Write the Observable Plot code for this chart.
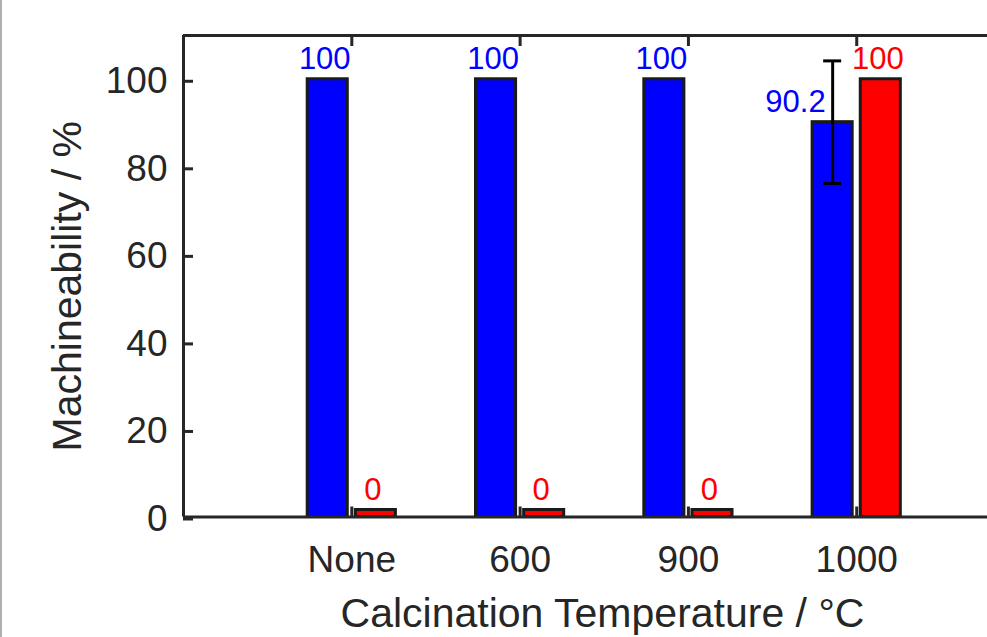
<!DOCTYPE html>
<html><head><meta charset="utf-8">
<script src="https://cdn.jsdelivr.net/npm/d3@7"></script>
<script src="https://cdn.jsdelivr.net/npm/@observablehq/plot@0.6"></script>
<style>
html,body{margin:0;padding:0;background:#fff;}
#chart{position:absolute;left:0;top:0;}
#edge{position:absolute;left:0;top:0;width:2px;height:637px;background:#b0b0b0;}
</style></head><body><div id="chart"></div><div id="edge"></div>
<script>
const categories = ["None", "600", "900", "1000"];
const blueValues = [100, 100, 100, 90.2];
const redValues = [0, 0, 0, 100];
const blueErrors = [0, 0, 0, 14];
const blueLabels = ["100", "100", "100", "90.2"];
const redLabels = ["0", "0", "0", "100"];
const yTicks = [0, 20, 40, 60, 80, 100];

const ink = "#262626";
const minVisible = 1.6;      // zero-valued bars are drawn as thin slivers
const halfGap = 0.024, barW = 0.238, capHalf = 0.0535;

const blue = categories.map((c, i) => {
  const center = i + 1 - halfGap - barW / 2;
  return {cat: c, x1: center - barW / 2, x2: center + barW / 2, center,
    value: blueValues[i], shown: Math.max(blueValues[i], minVisible),
    err: blueErrors[i], label: blueLabels[i]};
});
const red = categories.map((c, i) => {
  const center = i + 1 + halfGap + barW / 2;
  return {cat: c, x1: center - barW / 2, x2: center + barW / 2, center,
    value: redValues[i], shown: Math.max(redValues[i], minVisible),
    err: 0, label: redLabels[i]};
});
const withErr = blue.filter(d => d.err > 0);
const caps = withErr.flatMap(d => [d.value - d.err, d.value + d.err].map(y => ({y, x1: d.center - capHalf, x2: d.center + capHalf})));

const W = 987, H = 637, mL = 183, mR = 0;
const xMax = 4.777;

const chart = Plot.plot({
  width: W, height: H,
  marginLeft: mL, marginRight: mR, marginTop: 35, marginBottom: 120.5,
  style: {fontFamily: "'Liberation Sans', Arial, sans-serif", color: ink, background: "#fff", overflow: "visible"},
  x: {type: "linear", domain: [0, xMax]},
  y: {domain: [0, 110]},
  marks: [
    Plot.rectY(blue, {x1: "x1", x2: "x2", y1: 0, y2: "shown", fill: "#0000ff", stroke: "#1a1a1a", strokeWidth: 3}),
    Plot.rectY(red, {x1: "x1", x2: "x2", y1: 0, y2: "shown", fill: "#ff0000", stroke: "#1a1a1a", strokeWidth: 3}),
    Plot.ruleX(withErr, {x: "center", y1: d => d.value - d.err, y2: d => d.value + d.err, stroke: "#000", strokeWidth: 3}),
    Plot.ruleY(caps, {y: "y", x1: "x1", x2: "x2", stroke: "#000", strokeWidth: 3}),
    Plot.text(blue.filter(d => !(d.err > 0)), {x: "center", y: "shown", text: "label", fill: "#0000ff", fontSize: 31, lineAnchor: "middle", dy: -20, dx: -3}),
    Plot.text(withErr, {x: "center", y: "shown", text: "label", fill: "#0000ff", fontSize: 31, lineAnchor: "middle", textAnchor: "end", dy: -20, dx: -7}),
    Plot.text(red, {x: "center", y: "shown", text: "label", fill: "#ff0000", fontSize: 31, lineAnchor: "middle", dy: -20, dx: -3}),
    Plot.axisY({ticks: yTicks, tickSize: -10, tickPadding: 26, fontSize: 37, label: null, stroke: ink, strokeWidth: 3, dy: 2}),
    Plot.axisX({anchor: "bottom", ticks: [1, 2, 3, 4], tickFormat: d => categories[d - 1], tickSize: -10, tickPadding: 38.5, fontSize: 37, label: null, stroke: ink, strokeWidth: 3}),
    Plot.axisX({anchor: "top", ticks: [1, 2, 3, 4], tickFormat: () => "", tickSize: -10, tickPadding: 0, label: null, stroke: ink, strokeWidth: 3}),
    Plot.ruleY([0, 110], {stroke: ink, strokeWidth: 3}),
    Plot.ruleX([0], {y1: 0, y2: 110, stroke: ink, strokeWidth: 3}),
    Plot.text(["Calcination Temperature / °C"], {frameAnchor: "bottom", text: d => d, fontSize: 41, fill: ink, textAnchor: "middle", lineAnchor: "middle", dx: 17, dy: 97}),
    Plot.text(["Machineability / %"], {frameAnchor: "left", text: d => d, fontSize: 41, fill: ink, rotate: -90, textAnchor: "middle", lineAnchor: "middle", dx: -116, dy: 10})
  ]
});
document.getElementById("chart").appendChild(chart);
</script>
</body></html>
